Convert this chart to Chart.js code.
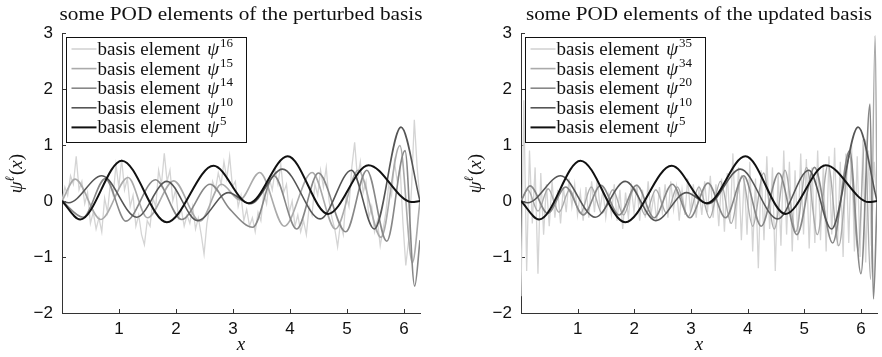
<!DOCTYPE html>
<html>
<head>
<meta charset="utf-8">
<script src="https://cdn.jsdelivr.net/npm/chart.js@4.4.1/dist/chart.umd.min.js"></script>
<style>
  html, body { margin: 0; padding: 0; background: #fff; }
  #wrap { position: relative; width: 882px; height: 357px; }
  canvas { position: absolute; top: 0; }
</style>
</head>
<body>
<div id="wrap">
  <canvas id="left" width="441" height="357" style="left:0"></canvas>
  <canvas id="right" width="441" height="357" style="left:441px"></canvas>
</div>
<script>
const TWO_PI = 2 * Math.PI;
const xTicks = [1, 2, 3, 4, 5, 6];
const yTicks = [-2, -1, 0, 1, 2, 3];

const titleLeft = 'some POD elements of the perturbed basis';
const titleRight = 'some POD elements of the updated basis';
const legendLeft = ['16', '15', '14', '10', '5'];
const legendRight = ['35', '34', '20', '10', '5'];
const greys = ['#d4d4d4', '#aaaaaa', '#878787', '#555555', '#111111'];

// smooth basis elements, read at their turning points [x, y]
const psi5 = [[0, 0], [0.32, -0.33], [1.05, 0.72], [1.84, -0.38], [2.66, 0.63], [3.28, -0.04],
  [3.96, 0.8], [4.67, -0.23], [5.38, 0.64], [6.14, -0.02], [6.283, 0]];
const psi10 = [[0, 0], [0.12, -0.03], [0.7, 0.45], [1.31, -0.29], [1.84, 0.35], [2.38, -0.35],
  [2.92, 0.15], [3.3, -0.05], [3.87, 0.57], [4.53, -0.32], [5.08, 0.55], [5.48, -0.5],
  [5.95, 1.32], [6.283, 0]];
const psi14 = [[0, 0], [0.37, -0.29], [0.76, 0.4], [1.12, -0.36], [1.64, 0.38], [2.1, -0.33],
  [2.6, 0.3], [2.95, -0.15], [3.35, -0.47], [3.72, 0.45], [4.12, -0.5], [4.5, 0.5],
  [4.98, -0.55], [5.35, 0.55], [5.7, -0.72], [6.02, 0.9], [6.19, -1.52], [6.283, -0.7]];
const psi15 = [[0, 0], [0.23, 0.39], [0.68, -0.33], [1.16, 0.42], [1.5, -0.3], [1.96, 0.36],
  [2.42, -0.36], [2.8, 0.3], [3.12, 0.02], [3.47, 0.51], [3.9, -0.45], [4.39, 0.51],
  [4.8, -0.5], [5.2, 0.55], [5.6, -0.65], [5.93, 0.99], [6.15, -1.1], [6.283, 0]];
const psi20 = [[0, 0], [0.16, 0.27], [0.47, -0.22], [0.79, 0.25], [1.1, -0.25], [1.41, 0.28],
  [1.73, -0.25], [2.04, 0.28], [2.35, -0.3], [2.67, 0.3], [2.98, -0.3], [3.3, 0.32], [3.61, -0.3],
  [3.93, 0.45], [4.24, -0.45], [4.55, 0.5], [4.87, -0.6], [5.18, 0.6], [5.5, -0.75], [5.8, 0.9],
  [6.0, -1.3], [6.16, 1.73], [6.22, -1.75], [6.283, 0]];
const psi34 = [[0, 0], [0.12, 0.2], [0.3, -0.18], [0.48, 0.22], [0.67, -0.2], [0.86, 0.2],
  [1.05, -0.22], [1.24, 0.25], [1.43, -0.22], [1.62, 0.2], [1.81, -0.25], [2.0, 0.22],
  [2.19, -0.25], [2.38, 0.2], [2.57, -0.22], [2.76, 0.25], [2.95, -0.28], [3.14, 0.25],
  [3.33, -0.3], [3.52, 0.35], [3.71, -0.4], [3.9, 0.45], [4.09, -0.45], [4.28, 0.5], [4.47, -0.5],
  [4.66, 0.55], [4.85, -0.55], [5.04, 0.6], [5.23, -0.6], [5.42, 0.65], [5.61, -0.8], [5.8, 0.8],
  [5.95, -0.9], [6.07, 1.1], [6.17, -1.4], [6.25, 2.95], [6.283, 0]];

// noisy basis elements, sampled on 127 equally spaced points over [0, 2pi]
const psi16 = [0.00, 0.25, 0.10, 0.45, 0.30, 0.80, 0.20, 0.35, -0.05, 0.15, -0.40, -0.20, -0.50,
  -0.30, -0.55, 0.05, -0.20, 0.30, 0.10, 0.65, 0.25, 0.75, 0.20, 0.40, -0.10, 0.10, -0.45, -0.25,
  -0.60, -0.78, -0.35, -0.45, 0.05, -0.10, 0.55, 0.30, 0.85, 0.35, 0.55, 0.00, 0.20, -0.30, -0.15,
  -0.45, -0.25, -0.40, -0.10, -0.50, -0.30, -0.60, -0.95, -0.40, -0.10, 0.35, 0.20, 0.50, 0.30,
  0.70, 0.40, 0.80, 0.25, 0.35, -0.10, 0.10, -0.35, -0.15, -0.45, -0.30, -0.55, -0.20, -0.35, 0.15,
  -0.05, 0.40, 0.20, 0.55, 0.30, 0.65, 0.15, 0.30, -0.20, 0.00, -0.45, -0.25, -0.55, -0.35, -0.60,
  -0.10, -0.25, 0.30, 0.10, 0.55, 0.25, 0.60, 0.00, -0.30, -0.50, -0.82, -0.40, -0.60, 0.10, -0.10,
  0.60, 1.05, 0.40, 0.70, 0.15, 0.35, -0.30, -0.10, -0.55, -0.35, -0.80, -0.50, -0.20, 0.30, 0.10,
  0.70, 0.35, 0.60, -0.40, -1.15, -0.70, 0.20, 1.45, 0.60, 0.00];
const psi35 = [-1.70, 1.80, -1.25, 0.90, -0.40, 0.60, -1.30, 0.50, -0.60, 0.30, -0.45, 0.35, -0.30,
  0.20, -0.40, 0.25, -0.20, 0.40, -0.10, 0.30, -0.25, 0.15, -0.35, 0.25, -0.30, 0.35, -0.20, 0.40,
  -0.15, 0.20, -0.30, 0.10, -0.25, 0.30, -0.35, 0.20, -0.50, 0.15, -0.30, 0.25, -0.20, 0.30, -0.35,
  0.20, -0.30, 0.35, -0.25, 0.10, -0.35, 0.25, -0.20, 0.30, -0.30, 0.35, -0.15, 0.25, -0.35, 0.20,
  -0.25, 0.40, -0.20, 0.30, -0.30, 0.20, -0.25, 0.35, -0.20, 0.45, -0.30, 0.30, -0.45, 0.40, -0.55,
  0.50, -0.40, 0.85, -0.50, 0.60, -0.70, 0.45, -0.60, 0.70, -0.90, 0.40, -1.20, 0.55, -0.70, 0.80,
  -0.50, 0.60, -1.25, 0.50, -0.80, 0.90, -0.60, 0.70, -0.90, 0.55, -0.70, 0.85, -0.60, 0.75, -0.85,
  0.60, -0.75, 0.90, -0.70, 0.65, -0.90, 0.80, -0.60, 0.95, -0.80, 0.70, -1.00, 0.85, -0.75, 1.00,
  -0.90, 0.80, -1.00, 1.10, -1.10, 0.90, -0.80, 0.70, 0.00];

const pairs = arr => arr.map(p => ({ x: p[0], y: p[1] }));
const sampled = arr => arr.map((v, i) => ({ x: i * TWO_PI / (arr.length - 1), y: v }));

const SERIF = '"Liberation Serif", "DejaVu Serif", serif';
const SANS = '"Liberation Sans", Arial, sans-serif';

function supText(ctx, x, y, base, sup, size) {
  ctx.font = size + 'px ' + SERIF;
  ctx.fillText(base, x, y);
  let w = ctx.measureText(base).width + 2;
  ctx.font = 'italic ' + size + 'px ' + SERIF;
  ctx.fillText('\u03c8', x + w, y);
  w += ctx.measureText('\u03c8').width + 1;
  ctx.font = Math.round(size * 0.68) + 'px ' + SERIF;
  ctx.fillText(sup, x + w, y - size * 0.42);
}

// draw text centred at cx, stretched horizontally to the width seen in the picture
function fitText(ctx, text, cx, y, width) {
  const k = width / ctx.measureText(text).width;
  ctx.save();
  ctx.translate(cx, y);
  ctx.scale(k, 1);
  ctx.textAlign = 'center';
  ctx.fillText(text, 0, 0);
  ctx.restore();
}

const decor = {
  id: 'decor',
  beforeDatasetsDraw(chart) {
    const { ctx, chartArea: a, scales: { x, y } } = chart;
    ctx.save();
    ctx.strokeStyle = '#333';
    ctx.lineWidth = 1;
    ctx.beginPath();
    xTicks.forEach(v => {
      const px = Math.round(x.getPixelForValue(v)) + 0.5;
      ctx.moveTo(px, a.bottom); ctx.lineTo(px, a.bottom - 4);
    });
    yTicks.forEach(v => {
      const py = Math.round(y.getPixelForValue(v)) + 0.5;
      ctx.moveTo(a.left, py); ctx.lineTo(a.left + 4, py);
    });
    ctx.stroke();
    ctx.restore();
  },
  afterDraw(chart, args, o) {
    const { ctx, chartArea: a } = chart;
    const cx = (a.left + a.right) / 2;
    ctx.save();
    ctx.fillStyle = '#111';
    ctx.textBaseline = 'alphabetic';
    // title
    ctx.font = '19px ' + SERIF;
    fitText(ctx, o.title, cx, 20, o.titleWidth);
    // x label
    ctx.textAlign = 'center';
    ctx.font = 'italic 19px ' + SERIF;
    ctx.fillText('x', cx, 350);
    // y label, rotated
    ctx.save();
    ctx.translate(o.yLabelX, (a.top + a.bottom) / 2);
    ctx.rotate(-Math.PI / 2);
    ctx.textAlign = 'left';
    ctx.font = 'italic 19px ' + SERIF;
    const w1 = ctx.measureText('\u03c8').width;
    ctx.font = 'italic 13px ' + SERIF;
    const w2 = ctx.measureText('\u2113').width;
    ctx.font = '19px ' + SERIF;
    const w3 = ctx.measureText('(x)').width;
    let sx = -(w1 + w2 + w3 + 1) / 2;
    ctx.font = 'italic 19px ' + SERIF;
    ctx.fillText('\u03c8', sx, 0);
    sx += w1;
    ctx.font = 'italic 13px ' + SERIF;
    ctx.fillText('\u2113', sx, -8);
    sx += w2 + 1;
    ctx.font = '19px ' + SERIF;
    ctx.fillText('(', sx, 0);
    sx += ctx.measureText('(').width;
    ctx.font = 'italic 19px ' + SERIF;
    ctx.fillText('x', sx, 0);
    sx += ctx.measureText('x').width;
    ctx.font = '19px ' + SERIF;
    ctx.fillText(')', sx, 0);
    ctx.restore();
    // legend
    const lx = a.left + 4.5, ly = 37.5, lw = 180, lh = 105;
    ctx.fillStyle = '#fff';
    ctx.fillRect(lx, ly, lw, lh);
    ctx.strokeStyle = '#111';
    ctx.lineWidth = 1;
    ctx.strokeRect(lx, ly, lw, lh);
    ctx.textAlign = 'left';
    o.legend.forEach((sup, i) => {
      const ry = 49 + i * 19.6;
      ctx.strokeStyle = greys[i];
      ctx.lineWidth = i === 4 ? 2 : 1.6;
      ctx.beginPath();
      ctx.moveTo(lx + 5, ry); ctx.lineTo(lx + 30, ry);
      ctx.stroke();
      ctx.fillStyle = '#111';
      supText(ctx, lx + 31, ry + 6, 'basis element ', sup, 19);
    });
    ctx.restore();
  }
};

function makeChart(id, series, opts) {
  return new Chart(document.getElementById(id), {
    type: 'scatter',
    data: {
      datasets: series.map(s => ({
        data: s.data,
        borderColor: s.color,
        borderWidth: s.width,
        showLine: true,
        pointRadius: 0,
        tension: 0,
        cubicInterpolationMode: s.smooth ? 'monotone' : 'default'
      }))
    },
    options: {
      responsive: false,
      animation: false,
      events: [],
      layout: { padding: { top: 33, right: opts.padRight, left: 0, bottom: 0 } },
      plugins: {
        legend: { display: false },
        tooltip: { enabled: false },
        decor: opts
      },
      scales: {
        x: {
          type: 'linear', min: 0, max: TWO_PI,
          grid: { display: false, drawTicks: false },
          border: { color: '#333', width: 1 },
          ticks: { color: '#111', font: { family: SANS, size: 17 }, padding: 6, maxRotation: 0 },
          afterBuildTicks: s => { s.ticks = xTicks.map(v => ({ value: v })); },
          afterFit: s => { s.height = 44; }
        },
        y: {
          type: 'linear', min: -2, max: 3,
          grid: { display: false, drawTicks: false },
          border: { color: '#333', width: 1 },
          ticks: {
            color: '#111', font: { family: SANS, size: 17 }, padding: 9,
            callback: v => (v < 0 ? '\u2212' + Math.abs(v) : String(v))
          },
          afterBuildTicks: s => { s.ticks = yTicks.map(v => ({ value: v })); },
          afterFit: s => { s.width = opts.yWidth; }
        }
      }
    },
    plugins: [decor]
  });
}

// first dataset is drawn on top
makeChart('left', [
  { data: pairs(psi5), color: greys[4], width: 2, smooth: true },
  { data: pairs(psi10), color: greys[3], width: 1.6, smooth: true },
  { data: pairs(psi14), color: greys[2], width: 1.6, smooth: true },
  { data: pairs(psi15), color: greys[1], width: 1.6, smooth: true },
  { data: sampled(psi16), color: greys[0], width: 1.3, smooth: false }
], { title: titleLeft, titleWidth: 363, legend: legendLeft, yWidth: 62, padRight: 21, yLabelX: 22 });

makeChart('right', [
  { data: pairs(psi5), color: greys[4], width: 2, smooth: true },
  { data: pairs(psi10), color: greys[3], width: 1.6, smooth: true },
  { data: pairs(psi20), color: greys[2], width: 1.6, smooth: true },
  { data: pairs(psi34), color: greys[1], width: 1.4, smooth: true },
  { data: sampled(psi35), color: greys[0], width: 1.3, smooth: false }
], { title: titleRight, titleWidth: 346, legend: legendRight, yWidth: 80, padRight: 5, yLabelX: 40 });
</script>
</body>
</html>
